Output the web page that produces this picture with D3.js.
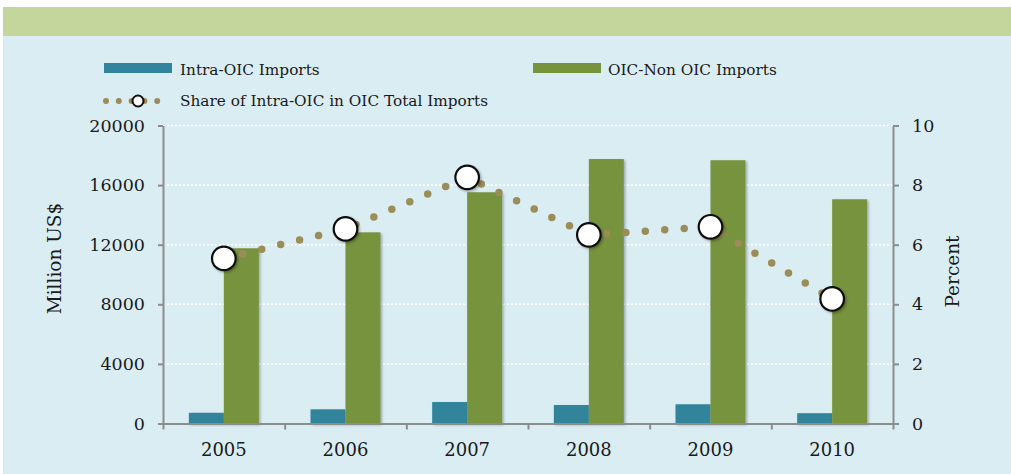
<!DOCTYPE html>
<html lang="en">
<head>
<meta charset="UTF-8">
<title>OIC imports</title>
<script src="https://d3js.org/d3.v7.min.js"></script>
<style>
    body{ margin:0; background:#fff; }
    text{ font-family: "DejaVu Serif", serif; fill:#1a1a1a; }
    .axis text{ font-size:17.5px; }
    .axis path, .axis line{ stroke:#8c8c8c; stroke-width:2; }
    .legend text{ font-size:15.3px; }
</style>
</head>
<body>
<div id="fig"></div>
<script>
    // data
    let years = ["2005","2006","2007","2008","2009","2010"]
    let intraOIC = [720, 950, 1440, 1240, 1290, 690]
    let nonOIC = [11760, 12830, 15520, 17750, 17670, 15050]
    let sharePct = [5.54, 6.53, 8.26, 6.33, 6.6, 4.18]
    let leftTicks = [0, 4000, 8000, 12000, 16000, 20000]
    let rightTicks = [0, 2, 4, 6, 8, 10]
    let seriesNames = ["Intra-OIC Imports", "OIC-Non OIC Imports", "Share of Intra-OIC in OIC Total Imports"]

    let W = 1011, H = 474
    let pLeft = 163, pRight = 893, pTop = 125.5, pBottom = 423.5
    let colBlue = "#31849b", colGreen = "#77933c", colDot = "#9b8d57"

    let svg = d3.select("#fig").append("svg").attr("width", W).attr("height", H)

    let defs = svg.append("defs")
    let f = defs.append("filter").attr("id", "shadow").attr("x", "-20%").attr("y", "-20%").attr("width", "150%").attr("height", "150%")
    f.append("feDropShadow").attr("dx", 1.5).attr("dy", 1.5).attr("stdDeviation", 1)
        .attr("flood-color", "#000").attr("flood-opacity", 0.3)

    // backgrounds
    svg.append("rect").attr("x", 3).attr("y", 7).attr("width", W - 3).attr("height", 29).attr("fill", "#c4d69c")
    svg.append("rect").attr("x", 3).attr("y", 36).attr("width", W - 3).attr("height", H - 36).attr("fill", "#daedf3")

    let x0 = d3.scaleBand().domain(years).range([pLeft, pRight]).paddingInner(0.425).paddingOuter(0.2125)
    let x1 = d3.scaleBand().domain(["intra", "non"]).range([0, x0.bandwidth()])
    let xb = d3.scaleLinear().domain([0, years.length]).range([pLeft, pRight])
    let y = d3.scaleLinear().domain([0, 20000]).range([pBottom, pTop])
    let y2 = d3.scaleLinear().domain([0, 10]).range([pBottom, pTop])

    // gridlines
    svg.append("g").selectAll("line").data(leftTicks.slice(1)).join("line")
        .attr("x1", pLeft).attr("x2", pRight)
        .attr("y1", d => y(d)).attr("y2", d => y(d))
        .attr("stroke", "#fff").attr("stroke-width", 1.6).attr("stroke-dasharray", "2 2")

    // bars
    let groups = svg.append("g").selectAll("g").data(years).join("g")
        .attr("transform", d => `translate(${x0(d)},0)`)
    groups.append("rect")
        .attr("x", x1("intra")).attr("width", x1.bandwidth())
        .attr("y", (d, i) => y(intraOIC[i])).attr("height", (d, i) => pBottom - y(intraOIC[i]))
        .attr("fill", colBlue).attr("filter", "url(#shadow)")
    groups.append("rect")
        .attr("x", x1("non")).attr("width", x1.bandwidth())
        .attr("y", (d, i) => y(nonOIC[i])).attr("height", (d, i) => pBottom - y(nonOIC[i]))
        .attr("fill", colGreen).attr("filter", "url(#shadow)")

    // axes
    svg.append("g").attr("class", "axis")
        .attr("transform", `translate(${pLeft},0)`)
        .call(d3.axisLeft(y).tickValues(leftTicks).tickFormat(d3.format("d")).tickSize(5).tickSizeOuter(0).tickPadding(13))
    svg.append("g").attr("class", "axis")
        .attr("transform", `translate(${pRight},0)`)
        .call(d3.axisRight(y2).tickValues(rightTicks).tickSize(6).tickSizeOuter(0).tickPadding(13))
    svg.append("g").attr("class", "axis")
        .attr("transform", `translate(0,${pBottom})`)
        .call(d3.axisBottom(xb).ticks(years.length).tickFormat("").tickSize(6).tickSizeOuter(0))
    let xAxis = svg.append("g").attr("class", "axis")
        .attr("transform", `translate(0,${pBottom})`)
        .call(d3.axisBottom(x0).tickSize(0).tickPadding(20))
    xAxis.select(".domain").remove()
    xAxis.selectAll("text").style("font-size", "18px")

    svg.append("text").attr("transform", `translate(61,${(pTop + pBottom) / 2 - 16}) rotate(-90)`)
        .attr("text-anchor", "middle").style("font-size", "18.5px").text("Million US$")
    svg.append("text").attr("transform", `translate(959,${(pTop + pBottom) / 2 - 3}) rotate(-90)`)
        .attr("text-anchor", "middle").style("font-size", "18.5px").text("Percent")

    // share line
    let line = d3.line().x((d, i) => x0(years[i]) + x0.bandwidth() / 2).y(d => y2(d))
    svg.append("path").datum(sharePct).attr("d", line)
        .attr("fill", "none").attr("stroke", colDot).attr("stroke-width", 7.5)
        .attr("stroke-linecap", "round").attr("stroke-dasharray", "0 19.5")
    svg.append("g").selectAll("circle").data(sharePct).join("circle")
        .attr("cx", (d, i) => x0(years[i]) + x0.bandwidth() / 2).attr("cy", d => y2(d))
        .attr("r", 11.8).attr("fill", "#fff").attr("stroke", "#111").attr("stroke-width", 2.2)
        .attr("filter", "url(#shadow)")

    // legend
    let lg = svg.append("g").attr("class", "legend")
    lg.append("rect").attr("x", 104).attr("y", 63).attr("width", 68).attr("height", 10).attr("fill", colBlue)
    lg.append("text").attr("x", 180).attr("y", 75).text(seriesNames[0])
    lg.append("rect").attr("x", 533).attr("y", 63).attr("width", 68).attr("height", 10).attr("fill", colGreen)
    lg.append("text").attr("x", 608).attr("y", 75).text(seriesNames[1])
    lg.append("line").attr("x1", 106).attr("x2", 170).attr("y1", 101).attr("y2", 101)
        .attr("stroke", colDot).attr("stroke-width", 6).attr("stroke-linecap", "round").attr("stroke-dasharray", "0 12.8")
    lg.append("circle").attr("cx", 138).attr("cy", 101).attr("r", 5.5)
        .attr("fill", "#fff").attr("stroke", "#111").attr("stroke-width", 2)
    lg.append("text").attr("x", 180).attr("y", 106).text(seriesNames[2])
</script>
</body>
</html>
